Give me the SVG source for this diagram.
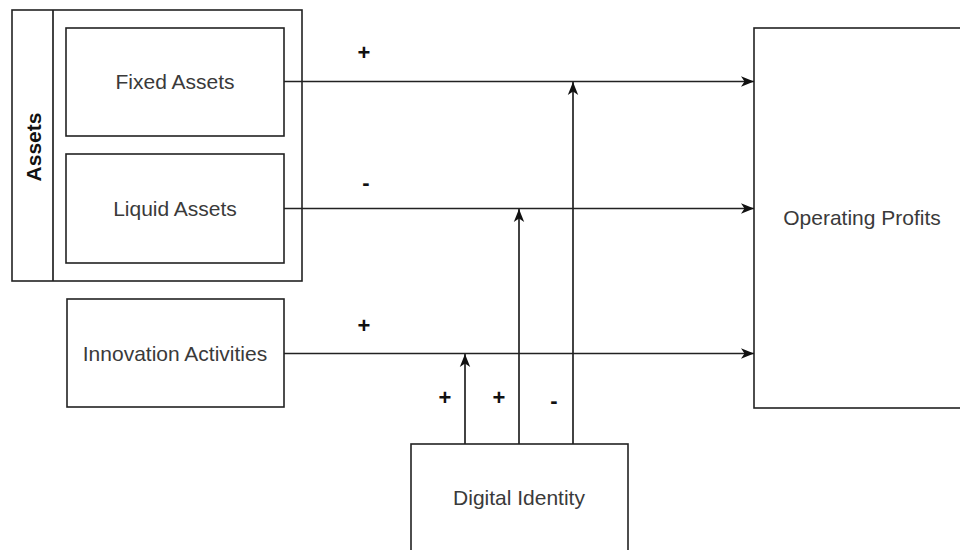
<svg xmlns="http://www.w3.org/2000/svg" width="960" height="550" viewBox="0 0 960 550">
<style>
.box{fill:#fff;stroke:#222;stroke-width:1.6}
.lbl{font-family:"Liberation Sans",Arial,sans-serif;font-size:21px;fill:#3a3a3a;text-anchor:middle}
.sgn{font-family:"Liberation Sans",Arial,sans-serif;font-size:22px;font-weight:bold;fill:#111;text-anchor:middle}
.edge{fill:none;stroke:#222;stroke-width:1.7}
</style>
<defs>
<marker id="arr" markerUnits="userSpaceOnUse" markerWidth="16" markerHeight="14" refX="13" refY="7" orient="auto">
<path d="M0,1.8 L13,7 L0,12.2 L3.5,7 Z" fill="#111"/>
</marker>
</defs>
<rect width="960" height="550" fill="#fff"/>
<g id="assets">
<rect class="box" x="12" y="10" width="290" height="271"/>
<line class="edge" x1="53" y1="10" x2="53" y2="281"/>
<text class="lbl" style="font-weight:bold;fill:#111" transform="translate(41,147) rotate(-90)">Assets</text>
</g>
<g id="fixed-assets">
<rect class="box" x="66" y="28" width="218" height="108"/>
<text class="lbl" x="175" y="89">Fixed Assets</text>
</g>
<g id="liquid-assets">
<rect class="box" x="66" y="154" width="218" height="109"/>
<text class="lbl" x="175" y="216">Liquid Assets</text>
</g>
<g id="innovation-activities">
<rect class="box" x="67" y="299" width="217" height="108"/>
<text class="lbl" x="175" y="361">Innovation Activities</text>
</g>
<g id="operating-profits">
<rect class="box" x="754" y="28" width="220" height="380"/>
<text class="lbl" x="862" y="225">Operating Profits</text>
</g>
<g id="digital-identity">
<rect class="box" x="411" y="444" width="217" height="120"/>
<text class="lbl" x="519" y="505">Digital Identity</text>
</g>
<g id="connectors">
<line class="edge" x1="284" y1="81.5" x2="754" y2="81.5" marker-end="url(#arr)"/>
<line class="edge" x1="284" y1="208.5" x2="754" y2="208.5" marker-end="url(#arr)"/>
<line class="edge" x1="284" y1="353.5" x2="754" y2="353.5" marker-end="url(#arr)"/>
<line class="edge" x1="465" y1="444" x2="465" y2="354" marker-end="url(#arr)"/>
<line class="edge" x1="519" y1="444" x2="519" y2="209" marker-end="url(#arr)"/>
<line class="edge" x1="573" y1="444" x2="573" y2="82" marker-end="url(#arr)"/>
<text class="sgn" x="364" y="60">+</text>
<text class="sgn" x="366" y="190">-</text>
<text class="sgn" x="364" y="333">+</text>
<text class="sgn" x="445" y="405">+</text>
<text class="sgn" x="499" y="405">+</text>
<text class="sgn" x="554" y="408">-</text>
</g>
</svg>
